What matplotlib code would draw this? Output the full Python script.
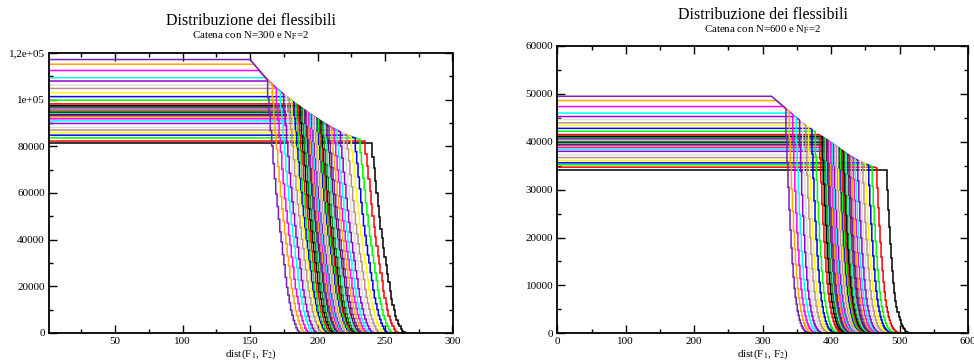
import matplotlib
matplotlib.use('Agg')
import matplotlib.pyplot as plt
from matplotlib.ticker import MultipleLocator

plt.rcParams['font.family'] = ['Liberation Serif', 'DejaVu Serif']
plt.rcParams['mathtext.fontset'] = 'stix'

# xmgrace colour cycle (sets 0..41 use it in order)
palette = ['#000000', '#ff0000', '#00ff00', '#0000ff', '#ffff00', '#bc8f8f',
           '#dcdcdc', '#9400d3', '#00ffff', '#ff00ff', '#ffa500', '#7221bc',
           '#670748', '#40e0d0', '#008b00']

# ---- left panel, N=300 (set 0 = lowest plateau) ----
lev_300 = [81300, 82400, 83600, 84800, 85900, 87000, 88100, 89800, 90900, 91800,
           92600, 93200, 93700, 94200, 94600, 94900, 95100, 95300, 95500, 95700,
           95850, 96000, 96150, 96300, 96450, 96600, 96750, 96900, 97050, 97200,
           97500, 98200, 99800, 101300, 103000, 104800, 106300, 108000, 109400, 112500,
           115200, 117200]
knee_300 = [240.5, 235.1, 227.5, 222, 217.9, 213.7, 209.7, 205.1, 202.1, 199.6,
            197.5, 195.8, 194.5, 193.4, 192.5, 191.8, 191.3, 190.8, 190.4, 189.9,
            189.6, 189.2, 188.9, 188.5, 188.2, 187.9, 187.5, 187.2, 186.8, 186.5,
            185.8, 184.2, 180.5, 177.1, 173.3, 169.5, 166.7, 163.6, 161.1, 156.5,
            152.8, 150]
dropx_300 = [240.5, 235.5, 231.5, 228, 225, 222, 219.5, 217, 214.5, 212.5,
             210.5, 208.5, 207, 205.5, 204, 202.5, 201.5, 200.5, 199.5, 198.5,
             197.5, 196.5, 195.5, 194.5, 193.5, 192.5, 191.5, 190.5, 189.5, 188.5,
             187, 185.5, 184, 182.5, 181, 179, 177, 175, 172.5, 169.5,
             166.5, 163]
dropy_300 = [81300, 82400, 83050, 83520, 84000, 84800, 85470, 86130, 86800, 87330,
             87870, 88550, 89100, 89650, 90200, 90750, 91120, 91480, 91850, 92220,
             92580, 92950, 93320, 93720, 94150, 94590, 95020, 95450, 95890, 96320,
             96970, 97620, 98270, 98900, 99570, 100450, 101350, 102250, 103400, 104800,
             106400, 108350]
# fraction of the starting height left at each step of the fall
fall_300 = [1.0, 0.93, 0.87, 0.8, 0.74, 0.67, 0.61, 0.55, 0.5, 0.45, 0.4, 0.36, 0.31,
            0.27, 0.22, 0.18, 0.15, 0.12, 0.09, 0.07, 0.05, 0.035, 0.02, 0.01, 0.004, 0.0]
step_300 = 1.0

# ---- right panel, N=600 ----
lev_600 = [34000, 34700, 35200, 35600, 36100, 36700, 37300, 38000, 38400, 38800,
           39100, 39350, 39550, 39750, 39900, 40000, 40080, 40160, 40240, 40320,
           40400, 40470, 40540, 40610, 40680, 40750, 40820, 40880, 40940, 41000,
           41150, 41500, 42200, 42800, 43400, 43950, 44650, 45270, 46000, 47350,
           48600, 49500]
knee_600 = [478, 463.3, 453.4, 447.2, 439.4, 430, 424.2, 417.5, 413.6, 409.7,
            406.8, 404.4, 402.4, 400.5, 399, 397.9, 397.1, 396.3, 395.5, 394.6,
            393.8, 393.1, 392.4, 391.7, 391, 390.3, 389.6, 389, 388.4, 387.8,
            386.3, 382.7, 375.7, 369.6, 363.5, 358.4, 352.7, 347.6, 341.6, 330.5,
            320.3, 313]
dropx_600 = [482, 467, 460, 455, 450.5, 446.5, 442.5, 439, 435.5, 432.5,
             429.5, 427, 424.5, 422, 419.5, 417.5, 415.5, 413.5, 411.5, 409.5,
             407.5, 405.5, 403.5, 401.5, 399.5, 397.5, 395.5, 393.5, 391.5, 389.5,
             387, 383.5, 377, 372, 367, 363, 358.5, 354, 349, 344,
             339, 334]
dropy_600 = [34000, 34520, 34860, 35100, 35390, 35640, 35900, 36120, 36350, 36540,
             36750, 37010, 37270, 37530, 37790, 38000, 38200, 38410, 38620, 38820,
             39030, 39230, 39440, 39650, 39840, 40040, 40240, 40430, 40630, 40830,
             41080, 41420, 42070, 42560, 43060, 43450, 43930, 44480, 45090, 45700,
             46310, 46920]
fall_600 = [1.0, 0.88, 0.76, 0.65, 0.55, 0.46, 0.38, 0.31, 0.25, 0.2, 0.16, 0.13,
            0.1, 0.08, 0.06, 0.045, 0.033, 0.024, 0.017, 0.011, 0.007, 0.004, 0.002, 0.0]
step_600 = 1.5


def draw_sets(ax, x0, lev, knee, dropx, dropy, fall, step):
    for i in range(len(lev)):
        xs = [x0, knee[i], dropx[i]]
        ys = [lev[i], lev[i], dropy[i]]
        x = dropx[i]
        for k in range(1, len(fall)):
            # staircase fall: vertical drop then flat step
            ys.append(dropy[i] * fall[k])
            xs.append(x)
            x = x + step
            xs.append(x)
            ys.append(dropy[i] * fall[k])
        ax.plot(xs, ys, color=palette[i % 15], lw=1.1, solid_joinstyle='miter')


fig = plt.figure(figsize=(9.74, 3.61), dpi=100)

# left panel
ax1 = fig.add_axes([49 / 974, 28 / 361, 403.5 / 974, 280 / 361])
draw_sets(ax1, 1, lev_300, knee_300, dropx_300, dropy_300, fall_300, step_300)
ax1.set_xlim(1, 300)
ax1.set_ylim(0, 120000)
ax1.xaxis.set_major_locator(MultipleLocator(50))
ax1.xaxis.set_minor_locator(MultipleLocator(25))
ax1.set_yticks([0, 20000, 40000, 60000, 80000, 100000, 120000])
ax1.set_yticklabels(['0', '20000', '40000', '60000', '80000', '1e+05', '1,2e+05'])
ax1.yaxis.set_minor_locator(MultipleLocator(10000))
ax1.set_xlabel('dist(F$_1$, F$_2$)', fontsize=8, labelpad=1)

# right panel
ax2 = fig.add_axes([557.3 / 974, 27.7 / 361, 410.7 / 974, 287.3 / 361])
draw_sets(ax2, 0, lev_600, knee_600, dropx_600, dropy_600, fall_600, step_600)
ax2.set_xlim(0, 600)
ax2.set_ylim(0, 60000)
ax2.xaxis.set_major_locator(MultipleLocator(100))
ax2.xaxis.set_minor_locator(MultipleLocator(50))
ax2.yaxis.set_major_locator(MultipleLocator(10000))
ax2.yaxis.set_minor_locator(MultipleLocator(5000))
ax2.set_xlabel('dist(F$_1$, F$_2$)', fontsize=8, labelpad=1)

for ax in (ax1, ax2):
    for s in ax.spines.values():
        s.set_linewidth(1.3)
    ax.tick_params(which='both', direction='in', top=True, right=True,
                   labelsize=8, width=1.0, pad=3)
    ax.tick_params(which='major', length=6)
    ax.tick_params(which='minor', length=3)

# titles (xmgrace style: title and subtitle above the frame)
fig.text(250.7 / 974, 1 - 25 / 361, 'Distribuzione dei flessibili',
         ha='center', va='baseline', fontsize=11.5)
fig.text(250.7 / 974, 1 - 39 / 361, 'Catena con N=300 e N$_\\mathrm{F}$=2',
         ha='center', va='baseline', fontsize=7.8)
fig.text(762.6 / 974, 1 - 19 / 361, 'Distribuzione dei flessibili',
         ha='center', va='baseline', fontsize=11.5)
fig.text(762.6 / 974, 1 - 33 / 361, 'Catena con N=600 e N$_\\mathrm{F}$=2',
         ha='center', va='baseline', fontsize=7.8)

fig.savefig('out.png', dpi=100)
